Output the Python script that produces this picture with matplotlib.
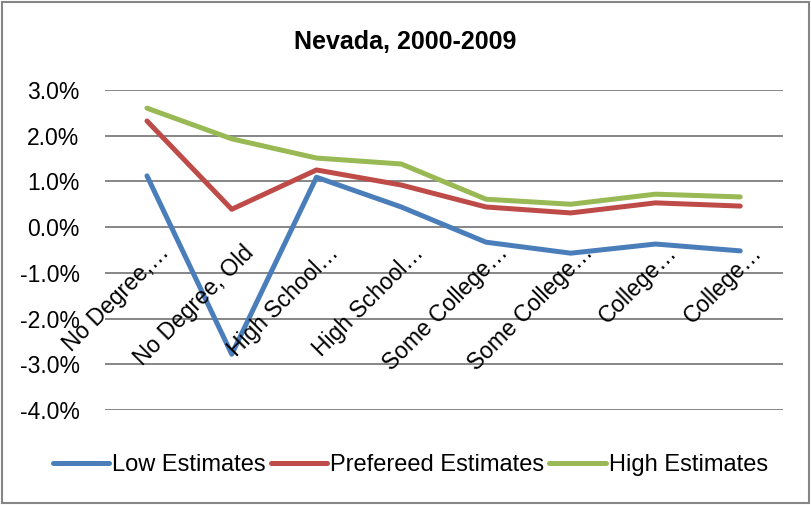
import matplotlib.pyplot as plt
from matplotlib.ticker import FuncFormatter
from matplotlib.patches import Rectangle

plt.rcParams['font.family'] = ['Liberation Sans', 'DejaVu Sans']

# category labels as shown (truncated, as in the original)
categories = ["No Degree,…", "No Degree, Old", "High School…", "High School…",
              "Some College…", "Some College…", "College…", "College…"]

low_est = [1.12, -2.78, 1.09, 0.44, -0.33, -0.57, -0.37, -0.52]
pref_est = [2.32, 0.39, 1.25, 0.92, 0.44, 0.31, 0.53, 0.46]
high_est = [2.60, 1.93, 1.51, 1.38, 0.61, 0.50, 0.72, 0.66]

fig = plt.figure(figsize=(8.11, 5.05), dpi=100)
ax = fig.add_axes([0.129, 0.188, 0.836, 0.634])

x = range(len(categories))
ax.plot(x, low_est, color="#4A7EBB", lw=3.6, label="Low Estimates", solid_capstyle="round")
ax.plot(x, pref_est, color="#BE4B48", lw=3.6, label="Prefereed Estimates", solid_capstyle="round")
ax.plot(x, high_est, color="#98B954", lw=3.6, label="High Estimates", solid_capstyle="round")

ax.set_ylim(-4, 3)
ax.set_xlim(-0.5, len(categories) - 0.5)
ax.set_yticks(range(-4, 4))
ax.yaxis.set_major_formatter(FuncFormatter(lambda v, p: f"{v:.1f}%"))
ax.tick_params(axis="y", length=0, labelsize=16.5, pad=18)
ax.grid(axis="y", color="#868686", lw=1.4)
ax.set_axisbelow(True)
for s in ax.spines.values():
    s.set_visible(False)
ax.set_xticks([])

# rotated category labels hanging from the zero line
for i, lab in enumerate(categories):
    ax.annotate(lab, (i, 0), xytext=(7.5, -10), textcoords="offset points",
                rotation=45, ha="right", va="top", rotation_mode="anchor",
                fontsize=16.5)

fig.text(0.5, 0.917, "Nevada, 2000-2009", ha="center", va="center",
         fontsize=18, fontweight="bold")

fig.legend(loc="center", bbox_to_anchor=(0.506, 0.079), ncol=3, frameon=False,
           fontsize=17, handlelength=2.4, handletextpad=0.13, columnspacing=0.2)

fig.patches.append(Rectangle((0.002, 0.003), 0.996, 0.994, transform=fig.transFigure,
                             fill=False, edgecolor="#868686", lw=1.5))

fig.savefig("out.png", dpi=100)
